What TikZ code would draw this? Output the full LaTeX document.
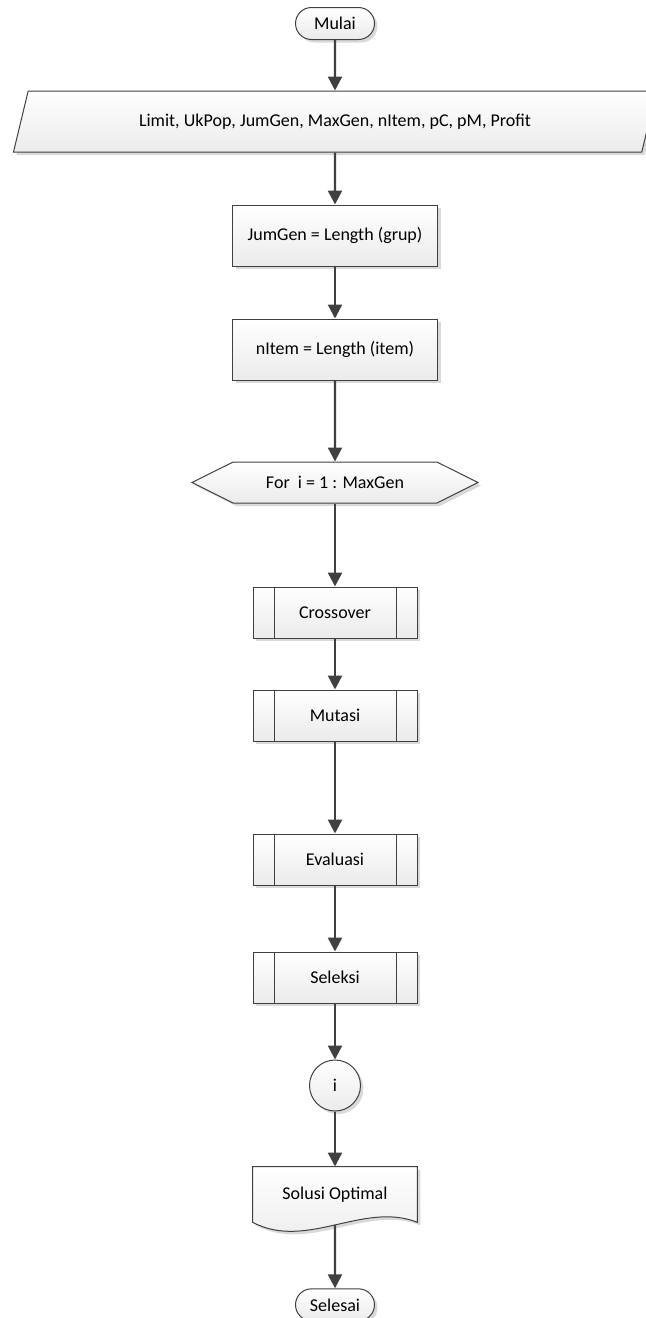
\documentclass[tikz,border=0pt]{standalone}
\usepackage{fontspec}
\setmainfont{Carlito}
\usepackage{xcolor}
\definecolor{cLine}{HTML}{404040}
\definecolor{cArrow}{HTML}{404040}
\definecolor{cFill}{HTML}{EBEBEB}
\definecolor{cShadow}{HTML}{D9D9D9}
\usepackage{tikz}
\usetikzlibrary{positioning,arrows.meta,shapes.geometric,shapes.misc,shapes.symbols,%
  shadows,backgrounds}
\tikzset{
  node-base/.style={draw=cLine,line width=0.5pt,top color=white,bottom color=cFill,
    drop shadow={shadow xshift=1.5pt,shadow yshift=-1.5pt,fill=cShadow,opacity=1},
    align=center,inner sep=1pt,text=black,font=\fontsize{9}{11}\selectfont},
  node-term/.style={node-base,rounded rectangle,minimum width=41.5pt,minimum height=16pt},
  node-io/.style={node-base,trapezium,trapezium left angle=64,trapezium right angle=116,
    trapezium stretches=true,minimum width=322.5pt,minimum height=30.5pt},
  node-box/.style={node-base,rectangle,minimum width=102.5pt,minimum height=30.5pt},
  node-loop/.style={node-base,signal,signal to=west and east,signal pointer angle=53,
    minimum width=143pt,minimum height=20.5pt},
  node-sub/.style={node-base,rectangle,minimum width=82pt,minimum height=25.5pt,
    path picture={
      \draw[cLine,line width=0.5pt]
        ([xshift=10.5pt]path picture bounding box.north west) --
        ([xshift=10.5pt]path picture bounding box.south west)
        ([xshift=-10.5pt]path picture bounding box.north east) --
        ([xshift=-10.5pt]path picture bounding box.south east);}},
  node-conn/.style={node-base,circle,minimum size=25.5pt},
  node-doc/.style={rectangle,minimum width=82pt,minimum height=27.5pt,inner sep=1pt,
    text=black,font=\fontsize{9}{11}\selectfont},
  doc-line/.style={draw=cLine,line width=0.5pt,top color=white,bottom color=cFill,
    drop shadow={shadow xshift=1.5pt,shadow yshift=-1.5pt,fill=cShadow,opacity=1}},
  arrow/.style={-{Triangle[length=7pt,width=7pt]},line width=1.2pt,draw=cArrow},
}
\begin{document}
\begin{tikzpicture}
  \useasboundingbox (0,0) rectangle (323pt,-659pt);
  \node[node-term]                         (start) at (167.5pt,-11.75pt) {Mulai};
  \node[node-io,below=25.25pt of start]    (input) {Limit, UkPop, JumGen, MaxGen, nItem, pC, pM, Profit};
  \node[node-box,below=26pt of input]      (jum)   {JumGen = Length (grup)};
  \node[node-box,below=26pt of jum]        (nitem) {nItem = Length (item)};
  \node[node-loop,below=40.5pt of nitem]   (loop)  {For\ \ i = 1 : MaxGen};
  \node[node-sub,below=41.5pt of loop]     (cross) {Crossover};
  \node[node-sub,below=25.5pt of cross]    (mut)   {Mutasi};
  \node[node-sub,below=46pt of mut]        (eval)  {Evaluasi};
  \node[node-sub,below=33pt of eval]       (sel)   {Seleksi};
  \node[node-conn,below=28pt of sel]       (conn)  {i};
  \node[node-doc,below=27.5pt of conn]     (sol)   {Solusi Optimal};
  \node[node-term,below=33pt of sol]       (stop)  {Selesai};
  % bentuk dokumen di belakang teks
  \begin{scope}[on background layer]
    \draw[doc-line] (sol.north west) -- (sol.north east) -- (sol.south east)
      .. controls +(-27pt,10.7pt) and +(27pt,-14.2pt) .. (sol.south west) -- cycle;
  \end{scope}
  \coordinate (sol-b) at ([yshift=-1.3pt]sol.south);
  \draw[arrow] (start) -- (input);
  \draw[arrow] (input) -- (jum);
  \draw[arrow] (jum)   -- (nitem);
  \draw[arrow] (nitem) -- (loop);
  \draw[arrow] (loop)  -- (cross);
  \draw[arrow] (cross) -- (mut);
  \draw[arrow] (mut)   -- (eval);
  \draw[arrow] (eval)  -- (sel);
  \draw[arrow] (sel)   -- (conn);
  \draw[arrow] (conn)  -- (sol);
  \draw[arrow] (sol-b) -- (stop);
\end{tikzpicture}
\end{document}
